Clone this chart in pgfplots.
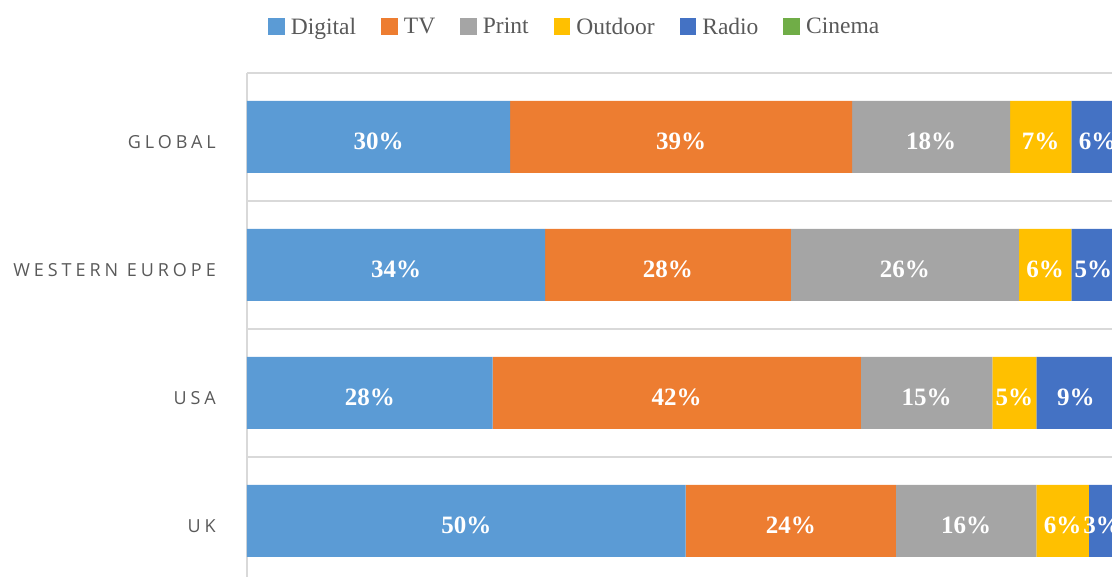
\documentclass[border=0pt]{standalone}
\usepackage{pgfplots}
\pgfplotsset{compat=1.18}
\usepackage{pgfplotstable}
\usepackage{fontspec}
\setmainfont{Liberation Serif}
\newfontfamily\catfont[LetterSpace=22]{Open Sans}
\definecolor{cDig}{HTML}{5B9BD5}
\definecolor{cTV}{HTML}{ED7D31}
\definecolor{cPri}{HTML}{A5A5A5}
\definecolor{cOut}{HTML}{FFC000}
\definecolor{cRad}{HTML}{4472C4}
\definecolor{cCin}{HTML}{70AD47}
\definecolor{txt}{HTML}{595959}
\definecolor{grd}{HTML}{D9D9D9}
\pgfplotstableread{
y Digital TV Print Outdoor Radio Cinema
0 30 39 18 7 6 0
1 34 28 26 6 5 1
2 28 42 15 5 9 1
3 50 24 16 6 3 1
}\mediadata
\pgfplotsset{
  geom/.style={
    at={(247pt,0pt)}, anchor=south west,
    scale only axis, width=865pt, height=504pt,
    xmin=0, xmax=98.63, ymin=-0.5, ymax=3.4375, y dir=reverse,
  },
  lblplot/.style={
    only marks, mark=*, mark size=0pt, mark options={draw=none, fill=none},
    point meta=explicit,
    nodes near coords={\pgfmathprintnumber[assume math mode=true]{\pgfplotspointmeta}\%},
    every node near coord/.append style={anchor=center, inner sep=0pt, yshift=-4pt,
      font=\fontsize{25}{27}\selectfont\bfseries, text=white},
  },
}
\begin{document}
\begin{tikzpicture}
\useasboundingbox (0,0) rectangle (1112pt,577pt);
\begin{axis}[
  geom,
  xbar stacked, bar width=72pt,
  axis x line=none, axis y line*=left,
  axis line style={grd, line width=1.8pt},
  ytick={0,1,2,3},
  yticklabels={GLOBAL,WESTERN EUROPE,USA,UK},
  major tick length=0pt,
  yticklabel style={font=\catfont\fontsize{18}{20}\selectfont, text=txt, inner sep=0pt, xshift=-31pt, yshift=-5pt},
  minor ytick={-0.5,0.5,1.5,2.5},
  minor tick length=0pt,
  yminorgrids, minor grid style={grd, line width=1.8pt},
  legend columns=6,
  legend style={draw=none, fill=none, at={(0.0243,1.0919)}, anchor=west,
    inner sep=0pt, font=\fontsize{23.5}{26}\selectfont, text=txt,
    nodes={inner xsep=6pt, inner ysep=0pt},
    /tikz/every even column/.append style={column sep=19pt}},
  legend image code/.code={\fill[#1] (0pt,-8.3pt) rectangle (16.7pt,8.3pt);},
]
\addplot[fill=cDig, draw=none] table[x=Digital, y=y] {\mediadata};
\addplot[fill=cTV, draw=none] table[x=TV, y=y] {\mediadata};
\addplot[fill=cPri, draw=none] table[x=Print, y=y] {\mediadata};
\addplot[fill=cOut, draw=none] table[x=Outdoor, y=y] {\mediadata};
\addplot[fill=cRad, draw=none] table[x=Radio, y=y] {\mediadata};
\addplot[fill=cCin, draw=none] table[x=Cinema, y=y] {\mediadata};
\legend{Digital,TV,Print,Outdoor,Radio,Cinema}
\end{axis}
\begin{axis}[geom, hide axis, clip=false]
\addplot[lblplot] table[x expr={\thisrow{Digital}/2}, y=y, meta=Digital] {\mediadata};
\addplot[lblplot] table[x expr={\thisrow{Digital}+\thisrow{TV}/2}, y=y, meta=TV] {\mediadata};
\addplot[lblplot] table[x expr={\thisrow{Digital}+\thisrow{TV}+\thisrow{Print}/2}, y=y, meta=Print] {\mediadata};
\addplot[lblplot] table[x expr={\thisrow{Digital}+\thisrow{TV}+\thisrow{Print}+\thisrow{Outdoor}/2}, y=y, meta=Outdoor] {\mediadata};
\addplot[lblplot] table[x expr={\thisrow{Digital}+\thisrow{TV}+\thisrow{Print}+\thisrow{Outdoor}+\thisrow{Radio}/2}, y=y, meta=Radio] {\mediadata};
\end{axis}
\end{tikzpicture}
\end{document}
